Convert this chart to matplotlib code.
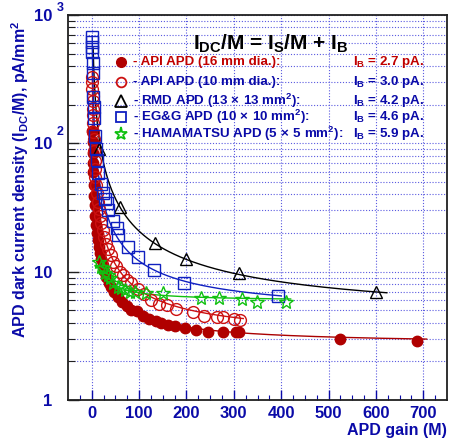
import numpy as np
import matplotlib
matplotlib.use("Agg")
import matplotlib.pyplot as plt
from matplotlib.lines import Line2D
from matplotlib.ticker import FixedLocator, LogLocator, NullFormatter

plt.rcParams['font.family'] = ['Liberation Sans', 'DejaVu Sans']
plt.rcParams['font.weight'] = 'bold'
plt.rcParams['mathtext.fontset'] = 'custom'
plt.rcParams['mathtext.rm'] = 'Liberation Sans:bold'
plt.rcParams['mathtext.it'] = 'Liberation Sans:bold'
plt.rcParams['mathtext.bf'] = 'Liberation Sans:bold'
plt.rcParams['mathtext.sf'] = 'Liberation Sans:bold'

# ---------------- data ----------------
api16_gain = [1.5, 2.0, 2.5, 3.0, 3.5, 4.5, 5.5, 6.5, 8, 9.5, 11, 13, 15, 17.5, 20, 23, 27, 31,
              36, 41, 47, 56, 65, 74, 84, 95, 108, 122, 135, 147, 162, 175, 198, 221, 246,
              278, 305, 312, 525, 686]
api16_dens = [125, 102, 84, 70, 60, 47, 39, 33, 27, 23, 20, 17.5, 15.6, 13.9, 12.5, 11.3, 10.1, 9.1,
              8.2, 7.6, 7.0, 6.3, 5.8, 5.4, 5.0, 4.9, 4.5, 4.27, 4.1, 4.0, 3.85, 3.77, 3.61, 3.5, 3.38,
              3.36, 3.36, 3.36, 2.97, 2.89]

api10_gain = [1.2, 1.4, 1.6, 1.8, 2.0, 2.3, 2.6, 3.0, 3.5, 4, 5, 6, 7, 8, 9.5, 11, 13, 15, 17.5,
              20, 23, 27, 31, 35, 40, 46, 52, 59, 66, 75, 84, 97, 111, 126, 142, 158, 179, 213,
              238, 265, 278, 301, 313]
api10_dens = [330, 300, 265, 235, 213, 185, 165, 143, 123, 108, 87, 73, 63, 55, 47, 41, 35, 31, 27,
              24, 21, 18.5, 16.5, 15, 13.5, 12, 11, 10, 9.4, 8.6, 8.1, 7.3, 6.7, 6.0, 5.6, 5.5, 5.1,
              4.84, 4.5, 4.42, 4.42, 4.27, 4.19]

rmd_gain = [15, 59.5, 133, 200, 312, 601]
rmd_dens = [90, 31.8, 16.7, 12.5, 9.7, 6.9]

egg_gain = [1.1, 1.2, 1.35, 1.5, 1.8, 2.2, 3.4, 4, 5, 7, 9, 11, 14, 19, 24, 28, 32, 35, 45, 53,
            56, 76, 97, 131, 194, 394]
egg_dens = [668, 611, 559, 511, 420, 351, 228, 191, 157, 115, 91, 74, 59, 48, 41, 37, 34, 30, 25,
            22, 19.2, 15.5, 13.0, 10.3, 8.1, 6.45]

ham_gain = [15, 20, 24, 29, 34, 38, 45, 55, 62, 70, 80, 91, 115, 150, 231, 269, 318, 349, 411]
ham_dens = [11.8, 10.8, 10.6, 9.8, 9.4, 8.9, 8.1, 7.6, 7.4, 7.2, 7.0, 6.9, 6.8, 6.8, 6.2, 6.2,
            6.1, 5.8, 5.8]

# fit model I_DC/M = I_S/M + I_B
fit_IS = [200, 420, 1650, 750, 95]
fit_IB = [2.7, 3.0, 4.2, 4.6, 5.9]
fit_from = [1.5, 1.2, 3.0, 1.1, 2.0]
fit_to = [707, 320, 623, 400, 420]

legend_labels = ["- API APD (16 mm dia.):",
                 "- API APD (10 mm dia.):",
                 r"- RMD APD (13$\,\times\,$13 mm$^2$):",
                 r"- EG&G APD (10$\,\times\,$10 mm$^2$):",
                 r"- HAMAMATSU APD (5$\,\times\,$5 mm$^2$):"]
legend_ib = [r"I$_B$ = 2.7 pA.", r"I$_B$ = 3.0 pA.", r"I$_B$ = 4.2 pA.",
             r"I$_B$ = 4.6 pA.", r"I$_B$ = 5.9 pA."]

xticks = [0, 100, 200, 300, 400, 500, 600, 700]

# ---------------- styling ----------------
BLUE = '#0a0aa8'
RED = '#c00000'
W, H = 449, 443
fig = plt.figure(figsize=(W / 100, H / 100), dpi=100)
ax = fig.add_axes([68 / W, 43 / H, 379 / W, 385 / H])
ax.set_yscale('log')
ax.set_xlim(-50, 750)
ax.set_ylim(1, 1000)

series = [
    (api16_gain, api16_dens, dict(marker='o', ms=7.5, mfc='#b00000', mec='#b00000', mew=1), '#aa0000'),
    (api10_gain, api10_dens, dict(marker='o', ms=8.5, mfc='none', mec='#cc1010', mew=1.0), '#cc1010'),
    (rmd_gain, rmd_dens, dict(marker='^', ms=9, mfc='none', mec='black', mew=1.0), 'black'),
    (egg_gain, egg_dens, dict(marker='s', ms=8.5, mfc='none', mec='#1020c0', mew=1.0), '#1020c0'),
    (ham_gain, ham_dens, dict(marker='*', ms=10, mfc='none', mec='#10c010', mew=1.0), '#10c010'),
]
for i, (g, d, mk, lc) in enumerate(series):
    M = np.geomspace(fit_from[i], fit_to[i], 400)
    ax.plot(M, np.array(fit_IS[i]) / M + fit_IB[i], color=lc, lw=1.0, zorder=3)
    ax.plot(g, d, ls='none', zorder=4, **mk)

# grid
ax.xaxis.set_major_locator(FixedLocator(xticks))
ax.xaxis.set_minor_locator(FixedLocator(np.arange(-25, 750, 25)))
ax.yaxis.set_major_locator(LogLocator(base=10, numticks=10))
ax.yaxis.set_minor_locator(LogLocator(base=10, subs=np.arange(2, 10), numticks=20))
ax.yaxis.set_minor_formatter(NullFormatter())
gkw = dict(color='#5a5ae0', lw=0.8, linestyle=(0, (1, 1.6)))
ax.grid(True, which='major', axis='both', **gkw)
ax.grid(True, which='minor', axis='y', **gkw)
ax.set_axisbelow(True)

ax.tick_params(axis='x', which='major', direction='in', length=7, width=1, color=BLUE,
               labelsize=12, labelcolor=BLUE, pad=4)
ax.tick_params(axis='x', which='minor', direction='in', length=3.5, width=0.8, color=BLUE)
ax.tick_params(axis='y', which='major', direction='in', length=8, width=1, color='#202020',
               labelsize=12, labelcolor=BLUE, pad=11)
ax.tick_params(axis='y', which='minor', direction='in', length=5, width=0.8, color='#202020')
ax.set_xticklabels([str(t) for t in xticks])
ax.set_yticks([1, 10, 100, 1000])
ax.set_yticklabels(['1', '10', '10', '10'])
for lab in ax.get_xticklabels() + ax.get_yticklabels():
    lab.set_fontweight('bold')
for s in ax.spines.values():
    s.set_linewidth(1.3)
    s.set_color('#202020')

# exponents of y tick labels
def fpx(px, py):
    return px / W, 1 - py / H

fig.text(*fpx(57, 135), '2', fontsize=9, color=BLUE, fontweight='bold', ha='left', va='baseline')
fig.text(*fpx(57, 11), '3', fontsize=9, color=BLUE, fontweight='bold', ha='left', va='baseline')

# axis titles
fig.text(*fpx(447, 435), 'APD gain (M)', fontsize=11.5, color=BLUE, fontweight='bold',
         ha='right', va='baseline')
fig.text(*fpx(20, 179), r'APD dark current density (I$_{DC}$/M), pA/mm$^2$', fontsize=11.5,
         color=BLUE, fontweight='bold', rotation=90, ha='center', va='center')

# formula title
fig.text(*fpx(271, 50), r'I$_{DC}$/M = I$_S$/M + I$_B$', fontsize=15, color='black',
         fontweight='bold', ha='center', va='baseline')

# legend
rows_y = [61.5, 81.5, 100.5, 117, 133.5]
leg_mk = [dict(marker='o', ms=7, mfc='#b00000', mec='#b00000'),
          dict(marker='o', ms=7, mfc='none', mec='#cc1010', mew=1.3),
          dict(marker='^', ms=8, mfc='none', mec='black', mew=1.3),
          dict(marker='s', ms=7.5, mfc='none', mec='#1020c0', mew=1.3),
          dict(marker='*', ms=9.5, mfc='none', mec='#10c010', mew=1.3)]
for i in range(5):
    col = RED if i == 0 else BLUE
    x0, y0 = fpx(120.5, rows_y[i])
    fig.add_artist(Line2D([x0], [y0], transform=fig.transFigure, ls='none', **leg_mk[i]))
    fig.text(*fpx(133, rows_y[i]), legend_labels[i], fontsize=9.6, color=col,
             fontweight='bold', ha='left', va='center')
    fig.text(*fpx(353, rows_y[i]), legend_ib[i], fontsize=9.6, color=col,
             fontweight='bold', ha='left', va='center')

fig.savefig('out.png', dpi=100)
